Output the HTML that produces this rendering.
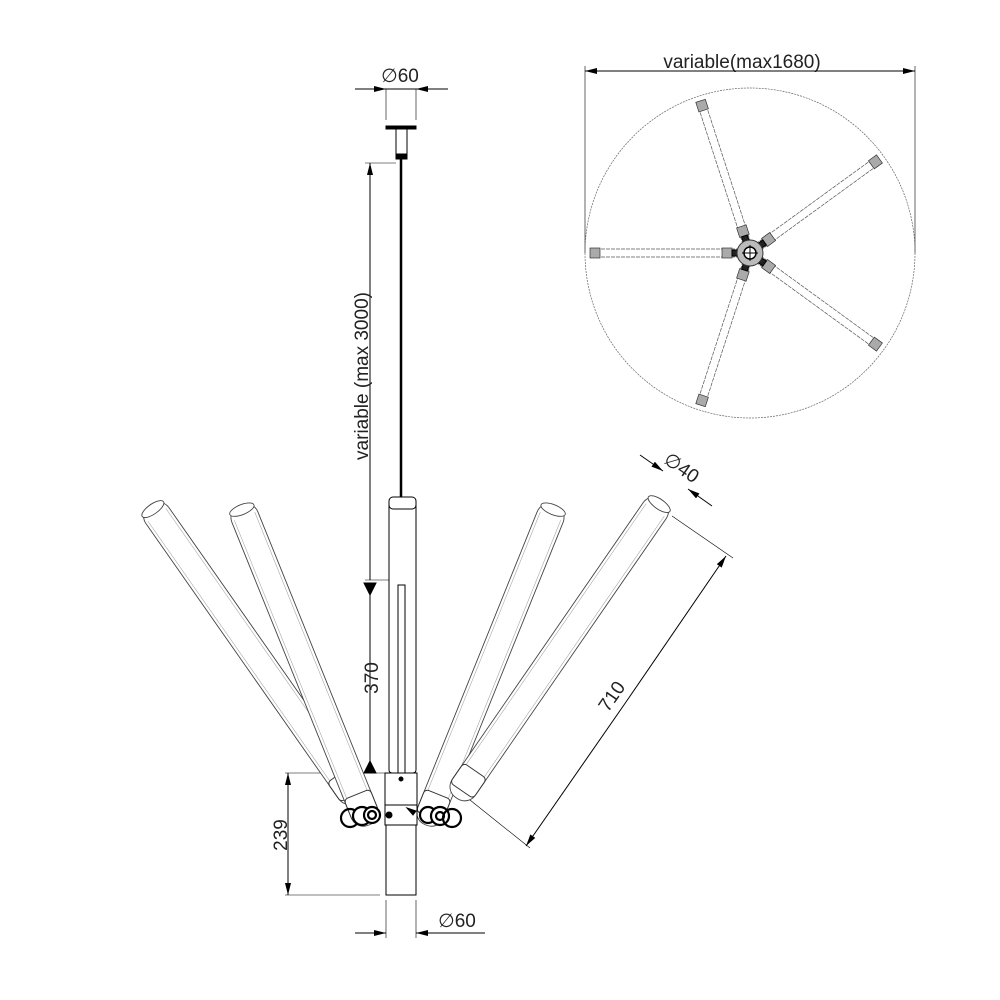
<!DOCTYPE html>
<html><head><style>body{margin:0;background:#fff}svg{display:block}text{font-family:"Liberation Sans",sans-serif;fill:#222}</style></head><body>
<svg width="1000" height="1000" viewBox="0 0 1000 1000" xmlns="http://www.w3.org/2000/svg">
<defs>
<marker id="a" markerWidth="12" markerHeight="6" refX="12" refY="3" orient="auto-start-reverse" markerUnits="userSpaceOnUse"><path d="M0,0 L12,3 L0,6 z" fill="#000"/></marker>
<g id="tube"><rect x="-14" y="0" width="28" height="345" rx="13" fill="#fff" stroke="#444" stroke-width=".9"/><line x1="-11" y1="12" x2="-11" y2="320" stroke="#999" stroke-width=".5"/><line x1="11" y1="12" x2="11" y2="320" stroke="#999" stroke-width=".5"/><ellipse cx="0" cy="5" rx="13" ry="5" fill="#fff" stroke="#444" stroke-width=".9"/><rect x="-14" y="312" width="28" height="24" rx="4" fill="#fff" stroke="#333"/></g>
<g id="tube2"><rect x="-14" y="0" width="28" height="362" rx="13" fill="#fff" stroke="#444" stroke-width=".9"/><line x1="-11" y1="12" x2="-11" y2="337" stroke="#999" stroke-width=".5"/><line x1="11" y1="12" x2="11" y2="337" stroke="#999" stroke-width=".5"/><ellipse cx="0" cy="5" rx="13" ry="5" fill="#fff" stroke="#444" stroke-width=".9"/><rect x="-14" y="329" width="28" height="24" rx="4" fill="#fff" stroke="#333"/></g>
<g id="pa"><line x1="0" y1="-4" x2="150" y2="-4" stroke="#555" stroke-width=".7" stroke-dasharray="4,1"/><line x1="0" y1="4" x2="150" y2="4" stroke="#555" stroke-width=".7" stroke-dasharray="4,1"/><rect x="150" y="-5" width="10" height="10" fill="#aaa" stroke="#333" stroke-width=".7"/><rect x="18" y="-5" width="10" height="10" fill="#aaa" stroke="#333" stroke-width=".7"/><rect x="8" y="-3" width="10" height="6" fill="#222"/></g>
</defs>
<g stroke="#000" stroke-width="1" fill="none">
<text x="400" y="82" font-size="19" text-anchor="middle" stroke="none">∅60</text>
<line x1="355" y1="89" x2="386" y2="89" marker-end="url(#a)"/><line x1="386" y1="89" x2="416" y2="89"/><line x1="448" y1="89" x2="416" y2="89" marker-end="url(#a)"/>
<line x1="386" y1="89" x2="386" y2="120" stroke-width=".6"/><line x1="416" y1="89" x2="416" y2="120" stroke-width=".6"/>
<rect x="386" y="126" width="30" height="3" fill="#000"/>
<rect x="396" y="129" width="11" height="25" fill="#fff"/>
<rect x="396" y="154" width="11" height="5" fill="#000"/>
<line x1="401" y1="159" x2="401" y2="585" stroke-width="2.5"/>
<line x1="365" y1="163" x2="396" y2="163" stroke-width=".6"/>
<line x1="370" y1="580" x2="370" y2="163" marker-end="url(#a)"/>
<line x1="365" y1="580" x2="400" y2="580" stroke-width=".6"/>
<line x1="370" y1="583" x2="370" y2="773"/>
<path d="M364,583 L370,595 L376,583z M364,773 L370,761 L376,773z" fill="#000"/>
<text transform="translate(368,376) rotate(-90)" font-size="19" text-anchor="middle" stroke="none">variable (max 3000)</text>
<text transform="translate(378,678) rotate(-90)" font-size="19" text-anchor="middle" stroke="none">370</text>
<rect x="389" y="500" width="27" height="273" rx="3" fill="#fff"/>
<rect x="389" y="497" width="27" height="12" rx="4" fill="#fff"/>
<rect x="398" y="585" width="7" height="188" fill="#fff"/>
<line x1="285" y1="773" x2="385" y2="773" stroke-width=".6"/>
<use href="#tube2" transform="translate(150,505) rotate(-35)"/>
<use href="#tube" transform="translate(240,505) rotate(-22)"/>
<use href="#tube" transform="translate(555,505) rotate(22)"/>
<use href="#tube2" transform="translate(662,500) rotate(34.6)"/>
<rect x="385" y="773" width="32" height="32" fill="#fff"/>
<rect x="385" y="805" width="32" height="20" fill="#fff"/>
<rect x="386" y="825" width="30" height="70" fill="#fff"/>
<circle cx="401" cy="779" r="2" fill="#000"/>
<g stroke-width="2.2"><circle cx="350" cy="818" r="9"/><circle cx="362" cy="816" r="9" fill="#fff"/><circle cx="372" cy="815" r="8" fill="#fff"/><circle cx="372" cy="815" r="4"/><circle cx="428" cy="815" r="8" fill="#fff"/><circle cx="440" cy="816" r="9" fill="#fff"/><circle cx="440" cy="816" r="4"/><circle cx="452" cy="818" r="9"/></g>
<circle cx="389" cy="815" r="3" fill="#000"/><path d="M407,808 l9,3 l-3,4z" fill="#000"/>
<line x1="285" y1="895" x2="380" y2="895" stroke-width=".6"/>
<line x1="288" y1="834" x2="288" y2="773" marker-end="url(#a)"/><line x1="288" y1="834" x2="288" y2="895" marker-end="url(#a)"/>
<text transform="translate(287,835) rotate(-90)" font-size="19" text-anchor="middle" stroke="none">239</text>
<line x1="386" y1="900" x2="386" y2="938" stroke-width=".6"/><line x1="416" y1="900" x2="416" y2="938" stroke-width=".6"/>
<line x1="355" y1="933" x2="386" y2="933" marker-end="url(#a)"/><line x1="485" y1="933" x2="416" y2="933" marker-end="url(#a)"/>
<text x="457" y="927" font-size="19" text-anchor="middle" stroke="none">∅60</text>
<line x1="672" y1="516" x2="733" y2="558" stroke-width=".6"/>
<line x1="470" y1="800" x2="530" y2="848" stroke-width=".6"/>
<line x1="626" y1="702" x2="726" y2="556" marker-end="url(#a)"/><line x1="626" y1="702" x2="526" y2="846" marker-end="url(#a)"/>
<text transform="translate(617,700) rotate(-55.4)" font-size="19" text-anchor="middle" stroke="none">710</text>
<line x1="640" y1="455" x2="663" y2="471" marker-end="url(#a)"/><line x1="712" y1="506" x2="688" y2="489" marker-end="url(#a)"/>
<text transform="translate(678,473) rotate(34.6)" font-size="19" text-anchor="middle" stroke="none">∅40</text>
<text x="742" y="68" font-size="19" text-anchor="middle" stroke="none">variable(max1680)</text>
<line x1="750" y1="71" x2="585" y2="71" marker-end="url(#a)"/><line x1="750" y1="71" x2="915" y2="71" marker-end="url(#a)"/>
<line x1="585" y1="66" x2="585" y2="253" stroke-width=".6"/><line x1="915" y1="66" x2="915" y2="253" stroke-width=".6"/>
<circle cx="750" cy="253" r="165" stroke="#666" stroke-width=".7" stroke-dasharray="2,1"/>
<use href="#pa" transform="translate(750,253) rotate(180)"/>
<use href="#pa" transform="translate(750,253) rotate(-108)"/>
<use href="#pa" transform="translate(750,253) rotate(-36)"/>
<use href="#pa" transform="translate(750,253) rotate(36)"/>
<use href="#pa" transform="translate(750,253) rotate(108)"/>
<circle cx="750" cy="253" r="13" fill="#bbb" stroke="#333"/>
<circle cx="750" cy="253" r="6" fill="#fff" stroke="#000" stroke-width="1.5"/>
<line x1="742" y1="253" x2="758" y2="253"/><line x1="750" y1="245" x2="750" y2="261"/>
</g>
</svg>
</body></html>
